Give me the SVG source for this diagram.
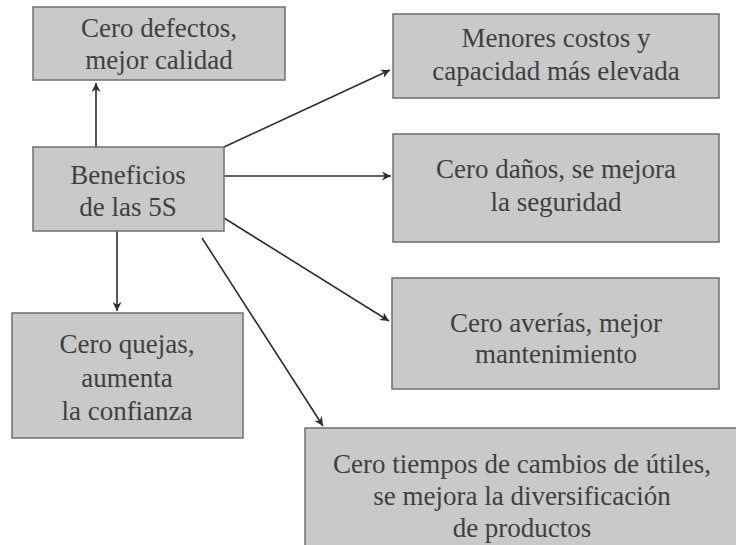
<svg xmlns="http://www.w3.org/2000/svg" width="736" height="545" viewBox="0 0 736 545">
<style>
.box{fill:#c9c9c9;stroke:#6f6f6f;stroke-width:1.5}
.t{font-family:'Liberation Serif','Noto Serif','DejaVu Serif','Times New Roman',serif;font-size:27px;fill:#404040;text-anchor:middle}
.c{stroke:#2e2e2e;stroke-width:1.6;fill:none;marker-end:url(#ah)}
</style>
<defs>
<marker id="ah" viewBox="0 0 10 10" refX="10" refY="5" markerWidth="9" markerHeight="9" markerUnits="userSpaceOnUse" orient="auto">
<path d="M0,0 L10,5 L0,10 L3,5 z" fill="#2e2e2e"/>
</marker>
</defs>
<rect width="736" height="545" fill="#fff"/>
<g id="connectors">
<line class="c" x1="96" y1="147" x2="96" y2="83"/>
<line class="c" x1="117" y1="231" x2="117" y2="311"/>
<line class="c" x1="224" y1="147" x2="390" y2="70"/>
<line class="c" x1="224" y1="176" x2="391" y2="176"/>
<line class="c" x1="224" y1="218" x2="389" y2="321"/>
<line class="c" x1="202" y1="238" x2="323" y2="426"/>
</g>
<g id="defectos">
<rect class="box" x="33" y="7" width="252" height="73"/>
<text class="t" x="159" y="37">Cero defectos,</text>
<text class="t" x="159" y="69">mejor calidad</text>
</g>
<g id="costos">
<rect class="box" x="393" y="14" width="326" height="84"/>
<text class="t" x="556" y="47">Menores costos y</text>
<text class="t" x="556" y="80">capacidad más elevada</text>
</g>
<g id="beneficios">
<rect class="box" x="33" y="147" width="191" height="84"/>
<text class="t" x="128" y="184">Beneficios</text>
<text class="t" x="128" y="216">de las 5S</text>
</g>
<g id="danos">
<rect class="box" x="393" y="134" width="326" height="108"/>
<text class="t" x="556" y="178">Cero daños, se mejora</text>
<text class="t" x="556" y="211">la seguridad</text>
</g>
<g id="averias">
<rect class="box" x="392" y="278" width="327" height="111"/>
<text class="t" x="556" y="332">Cero averías, mejor</text>
<text class="t" x="556" y="363">mantenimiento</text>
</g>
<g id="quejas">
<rect class="box" x="12" y="313" width="231" height="125"/>
<text class="t" x="127" y="353">Cero quejas,</text>
<text class="t" x="127" y="387">aumenta</text>
<text class="t" x="127" y="420">la confianza</text>
</g>
<g id="tiempos">
<rect class="box" x="305" y="428" width="440" height="125"/>
<text class="t" x="522" y="473">Cero tiempos de cambios de útiles,</text>
<text class="t" x="522" y="505">se mejora la diversificación</text>
<text class="t" x="522" y="537">de productos</text>
</g>
</svg>
